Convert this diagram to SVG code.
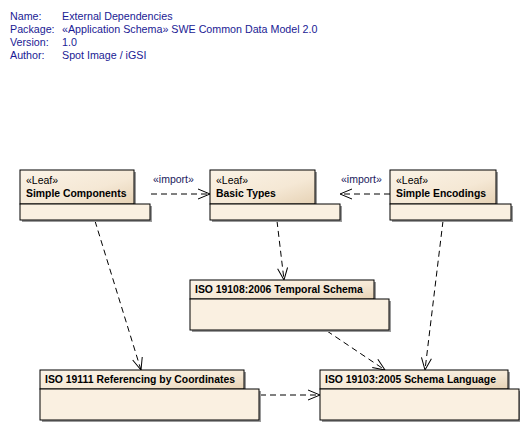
<svg xmlns="http://www.w3.org/2000/svg" width="520" height="430" viewBox="0 0 520 430">
<style>
.hdr{font-family:"Liberation Sans",Arial,sans-serif;font-size:10.7px;fill:#1a1a94}
.st{font-family:"Liberation Sans",Arial,sans-serif;font-size:10.5px;fill:#000}
.nm{font-family:"Liberation Sans",Arial,sans-serif;font-size:10.4px;font-weight:bold;fill:#000}
.lbl{font-family:"Liberation Sans",Arial,sans-serif;font-size:10.5px;fill:#1a1a5c}
.tab{fill:url(#g);stroke:#000;stroke-width:1}
.body{fill:#FAF0E1;stroke:#000;stroke-width:1}
.sh{fill:#9a9a9a}
.dep{fill:none;stroke:#000;stroke-width:1;stroke-dasharray:6,4}
.ah{fill:none;stroke:#000;stroke-width:1}
</style>
<defs>
<linearGradient id="g" x1="0" y1="0" x2="1" y2="1">
<stop offset="0" stop-color="#FBF3E6"/>
<stop offset="0.6" stop-color="#F5E8D5"/>
<stop offset="1" stop-color="#E6D2B5"/>
</linearGradient>
<marker id="arr" markerWidth="14" markerHeight="12" refX="13" refY="6" orient="auto" markerUnits="userSpaceOnUse">
<path d="M1,1 L13,6 L1,11" class="ah"/>
</marker>
</defs>
<rect width="520" height="430" fill="#fff"/>
<g id="header">
<text class="hdr" x="10" y="20">Name:</text><text class="hdr" x="62" y="20">External Dependencies</text>
<text class="hdr" x="10" y="33">Package:</text><text class="hdr" x="62" y="33">«Application Schema» SWE Common Data Model 2.0</text>
<text class="hdr" x="10" y="46">Version:</text><text class="hdr" x="62" y="46">1.0</text>
<text class="hdr" x="10" y="59">Author:</text><text class="hdr" x="62" y="59">Spot Image / iGSI</text>
</g>
<g id="connectors">
<line class="dep" x1="151" y1="194" x2="210" y2="194" marker-end="url(#arr)"/>
<text class="lbl" x="153" y="183">«import»</text>
<line class="dep" x1="390" y1="194" x2="340" y2="194" marker-end="url(#arr)"/>
<text class="lbl" x="341" y="183">«import»</text>
<line class="dep" x1="95" y1="221" x2="141" y2="370" marker-end="url(#arr)"/>
<line class="dep" x1="277" y1="221" x2="284" y2="280" marker-end="url(#arr)"/>
<line class="dep" x1="327" y1="331" x2="385" y2="370" marker-end="url(#arr)"/>
<line class="dep" x1="443" y1="221" x2="425" y2="370" marker-end="url(#arr)"/>
<line class="dep" x1="260" y1="395" x2="320" y2="395" marker-end="url(#arr)"/>
</g>
<g id="simple-components">
<rect class="sh" x="22" y="172" width="114" height="34"/>
<rect class="sh" x="22" y="206" width="130" height="16"/>
<rect class="tab" x="20" y="170" width="114" height="34"/>
<rect class="body" x="20" y="204" width="130" height="16"/>
<text class="st" x="26" y="184">«Leaf»</text>
<text class="nm" x="26" y="197">Simple Components</text>
</g>
<g id="basic-types">
<rect class="sh" x="212" y="172" width="105" height="34"/>
<rect class="sh" x="212" y="206" width="130" height="16"/>
<rect class="tab" x="210" y="170" width="105" height="34"/>
<rect class="body" x="210" y="204" width="130" height="16"/>
<text class="st" x="216" y="184">«Leaf»</text>
<text class="nm" x="216" y="197">Basic Types</text>
</g>
<g id="simple-encodings">
<rect class="sh" x="392" y="172" width="106" height="34"/>
<rect class="sh" x="392" y="206" width="121" height="16"/>
<rect class="tab" x="390" y="170" width="106" height="34"/>
<rect class="body" x="390" y="204" width="121" height="16"/>
<text class="st" x="396" y="184">«Leaf»</text>
<text class="nm" x="396" y="197">Simple Encodings</text>
</g>
<g id="iso19108">
<rect class="sh" x="192" y="282" width="184" height="19"/>
<rect class="sh" x="192" y="301" width="199" height="31"/>
<rect class="tab" x="190" y="280" width="184" height="19"/>
<rect class="body" x="190" y="299" width="199" height="31"/>
<text class="nm" x="195" y="293">ISO 19108:2006 Temporal Schema</text>
</g>
<g id="iso19111">
<rect class="sh" x="42" y="372" width="204" height="19"/>
<rect class="sh" x="42" y="391" width="219" height="31"/>
<rect class="tab" x="40" y="370" width="204" height="19"/>
<rect class="body" x="40" y="389" width="219" height="31"/>
<text class="nm" x="45" y="383">ISO 19111 Referencing by Coordinates</text>
</g>
<g id="iso19103">
<rect class="sh" x="322" y="372" width="188" height="19"/>
<rect class="sh" x="322" y="391" width="200" height="31"/>
<rect class="tab" x="320" y="370" width="188" height="19"/>
<rect class="body" x="320" y="389" width="199" height="31"/>
<text class="nm" x="325" y="383">ISO 19103:2005 Schema Language</text>
</g>
</svg>
